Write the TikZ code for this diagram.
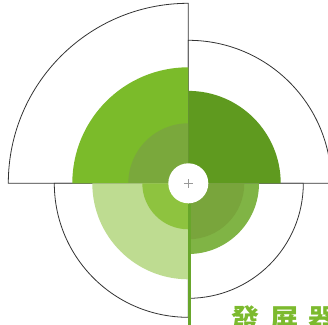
\documentclass[tikz,border=0pt]{standalone}
\usepackage{fontspec}
\newfontfamily\cjk{Noto Sans CJK TC}
\definecolor{tlout}{HTML}{7BBB2A}
\definecolor{tlin}{HTML}{7AA83C}
\definecolor{trout}{HTML}{5F9A1F}
\definecolor{brout}{HTML}{80B445}
\definecolor{brin}{HTML}{79A53C}
\definecolor{blout}{HTML}{BEDC91}
\definecolor{blin}{HTML}{8EC33F}
\definecolor{txtgreen}{HTML}{7CBA2E}
\definecolor{stem}{HTML}{68A62B}
\definecolor{edge}{HTML}{333333}
\tikzset{
  outline/.style={draw=edge,line width=0.8pt,fill=white},
  label/.style={inner sep=0pt,anchor=base west,font=\cjk\bfseries\fontsize{28}{28}\selectfont,text=txtgreen}
}
\newcommand{\sect}[4]{% style, start, end, radius
  \path[#1] (C) -- ++(#2:#4) arc[start angle=#2,end angle=#3,radius=#4] -- cycle;}
\begin{document}
\begin{tikzpicture}[x=1pt,y=1pt]
\useasboundingbox (0,0) rectangle (328,324);
\clip (0,0) rectangle (328,324);
\coordinate (C) at (188.3,140.7);
% outlined quadrants
\sect{outline}{90}{180}{180}
\sect{outline}{0}{90}{143}
\sect{outline}{270}{360}{115}
\sect{outline}{180}{270}{134}
% green fills
\sect{fill=tlout}{90}{180}{116}
\sect{fill=tlin}{90}{180}{60}
\sect{fill=trout}{0}{90}{92.4}
\sect{fill=brout}{270}{360}{70.7}
\sect{fill=brin}{270}{360}{56}
\sect{fill=blout}{180}{270}{96}
\sect{fill=blin}{180}{270}{46}
% stem
\coordinate (stemtop) at (189,120);
\coordinate (stembot) at (189,-2);
\draw[stem,line width=3pt] (stemtop) -- (stembot);
% center
\node[circle,fill=white,minimum size=40pt,inner sep=0pt] (hub) at (C) {};
\draw[gray!80,line width=0.7pt] ([xshift=-4.5pt]hub.center) -- ([xshift=4.5pt]hub.center)
  ([yshift=-4.5pt]hub.center) -- ([yshift=4.5pt]hub.center);
% text
\node[label] (t1) at (231.5,-5.5) {發};
\node[label] (t2) at (270,-5.5) {屏};
\node[label] (t3) at (308.5,-5.5) {器};
\end{tikzpicture}
\end{document}
